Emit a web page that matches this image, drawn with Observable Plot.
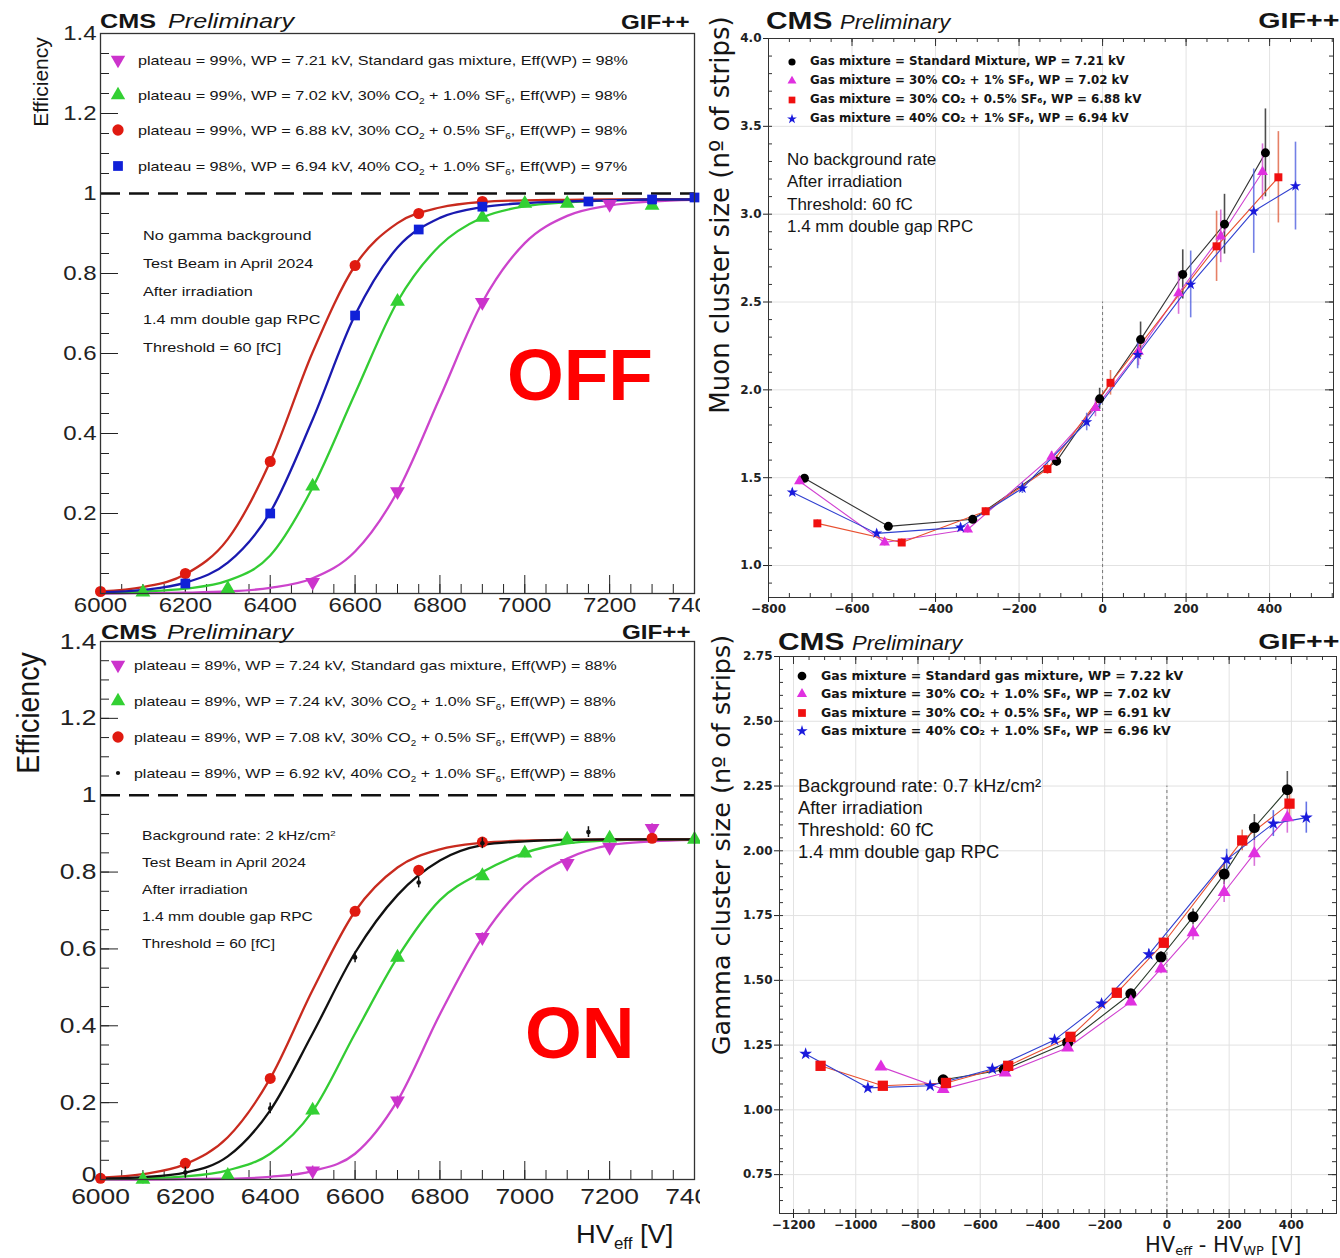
<!DOCTYPE html>
<html><head><meta charset="utf-8">
<script src="https://cdn.jsdelivr.net/npm/d3@7"></script>
<script src="https://cdn.jsdelivr.net/npm/@observablehq/plot@0.6"></script>
<style>
html,body{margin:0;padding:0;background:#fff;}
#root{position:relative;width:1340px;height:1258px;overflow:hidden;background:#fff;}
</style></head><body><div id="root"></div>
<script>
// ---------------- DATA ----------------
const hvGrid = [6000,6100,6200,6300,6400,6500,6600,6700,6800,6900,7000,7100,7200,7300,7400];

// Efficiency, gamma source OFF
const offLegend = [
  "plateau = 99%, WP = 7.21 kV, Standard gas mixture, Eff(WP) = 98%",
  "plateau = 99%, WP = 7.02 kV, 30% CO<sub>2</sub> + 1.0% SF<sub>6</sub>, Eff(WP) = 98%",
  "plateau = 99%, WP = 6.88 kV, 30% CO<sub>2</sub> + 0.5% SF<sub>6</sub>, Eff(WP) = 98%",
  "plateau = 98%, WP = 6.94 kV, 40% CO<sub>2</sub> + 1.0% SF<sub>6</sub>, Eff(WP) = 97%"];
const offStdHV = [6500,6700,6900,7200];
const offStdEff = [0.028,0.255,0.728,0.973];
const offStdFit = [0,0.001,0.002,0.005,0.014,0.038,0.105,0.255,0.49,0.728,0.876,0.944,0.97,0.98,0.984];
const off301HV = [6100,6300,6500,6700,6900,7000,7100,7300];
const off301Eff = [0.003,0.012,0.268,0.73,0.94,0.975,0.975,0.97];
const off301Fit = [0.002,0.005,0.012,0.032,0.095,0.265,0.5,0.73,0.87,0.94,0.968,0.978,0.983,0.985,0.985];
const off305HV = [6000,6200,6400,6600,6750,6900];
const off305Eff = [0.005,0.05,0.33,0.82,0.95,0.98];
const off305Fit = [0.005,0.016,0.048,0.136,0.33,0.603,0.82,0.926,0.965,0.979,0.983,0.984,0.985,0.985,0.985];
const off401HV = [6200,6400,6600,6750,6900,7150,7300,7400];
const off401Eff = [0.025,0.2,0.695,0.91,0.967,0.98,0.985,0.99];
const off401Fit = [0.003,0.009,0.027,0.077,0.203,0.435,0.696,0.865,0.939,0.966,0.976,0.98,0.983,0.985,0.985];
const offNotes = ["No gamma background","Test Beam in April 2024","After irradiation","1.4 mm double gap RPC","Threshold = 60 [fC]"];

// Efficiency, gamma source ON
const onLegend = [
  "plateau = 89%, WP = 7.24 kV, Standard gas mixture, Eff(WP) = 88%",
  "plateau = 89%, WP = 7.24 kV, 30% CO<sub>2</sub> + 1.0% SF<sub>6</sub>, Eff(WP) = 88%",
  "plateau = 89%, WP = 7.08 kV, 30% CO<sub>2</sub> + 0.5% SF<sub>6</sub>, Eff(WP) = 88%",
  "plateau = 89%, WP = 6.92 kV, 40% CO<sub>2</sub> + 1.0% SF<sub>6</sub>, Eff(WP) = 88%"];
const onStdHV = [6500,6700,6900,7100,7200,7300];
const onStdEff = [0.023,0.205,0.63,0.823,0.865,0.914];
const onStdFit = [0,0,0.001,0.002,0.007,0.022,0.067,0.205,0.43,0.63,0.765,0.835,0.87,0.88,0.884];
const on301HV = [6100,6300,6500,6700,6900,7000,7100,7200,7400];
const on301Eff = [0.0,0.01,0.18,0.578,0.79,0.849,0.885,0.888,0.885];
const on301Fit = [0.001,0.003,0.008,0.024,0.067,0.178,0.38,0.578,0.727,0.8,0.85,0.875,0.882,0.885,0.885];
const on305HV = [6000,6200,6400,6600,6750,6900,7300];
const on305Eff = [0.003,0.042,0.263,0.698,0.805,0.878,0.888];
const on305Fit = [0.005,0.014,0.04,0.11,0.263,0.493,0.698,0.812,0.859,0.876,0.882,0.884,0.885,0.885,0.885];
const on401HV = [6200,6400,6600,6750,6900,7150];
const on401Eff = [0.018,0.185,0.578,0.773,0.875,0.904];
const on401Fit = [0.002,0.006,0.018,0.06,0.18,0.38,0.59,0.74,0.83,0.87,0.88,0.884,0.885,0.885,0.885];
const onNotes = ["Background rate: 2 kHz/cm<sup>2</sup>","Test Beam in April 2024","After irradiation","1.4 mm double gap RPC","Threshold = 60 [fC]"];

// Muon cluster size (no background)
const muLegend = [
  "Gas mixture = Standard Mixture, WP = 7.21 kV",
  "Gas mixture = 30% CO₂ + 1% SF₆, WP = 7.02 kV",
  "Gas mixture = 30% CO₂ + 0.5% SF₆, WP = 6.88 kV",
  "Gas mixture = 40% CO₂ + 1% SF₆, WP = 6.94 kV"];
const muStdDV = [-714,-513,-311,-110,-7,91,192,292,390];
const muStdCS = [1.497,1.223,1.263,1.594,1.949,2.286,2.657,2.943,3.349];
const muStdErr = [0.02,0.02,0.02,0.03,0.06,0.1,0.14,0.17,0.25];
const mu301DV = [-726,-522,-323,-122,-17,86,182,283,383];
const mu301CS = [1.48,1.131,1.205,1.62,1.897,2.217,2.55,2.874,3.24];
const mu301Err = [0.02,0.02,0.02,0.03,0.05,0.08,0.12,0.15,0.16];
const mu305DV = [-683,-481,-280,-132,19,273,421];
const mu305CS = [1.24,1.131,1.309,1.549,2.04,2.817,3.21];
const mu305Err = [0.02,0.02,0.02,0.03,0.07,0.2,0.26];
const mu401DV = [-743,-541,-340,-192,-38,84,211,362,462];
const mu401CS = [1.417,1.183,1.217,1.44,1.817,2.2,2.6,3.017,3.16];
const mu401Err = [0.02,0.02,0.02,0.03,0.05,0.08,0.19,0.24,0.25];
const muNotes = ["No background rate","After irradiation","Threshold: 60 fC","1.4 mm double gap RPC"];

// Gamma cluster size (0.7 kHz/cm2)
const gaLegend = [
  "Gas mixture = Standard gas mixture, WP = 7.22 kV",
  "Gas mixture = 30% CO₂ + 1.0% SF₆, WP = 7.02 kV",
  "Gas mixture = 30% CO₂ + 0.5% SF₆, WP = 6.91 kV",
  "Gas mixture = 40% CO₂ + 1.0% SF₆, WP = 6.96 kV"];
const gaStdDV = [-719,-523,-319,-116,-19,84,184,281,387];
const gaStdCS = [1.116,1.155,1.26,1.448,1.59,1.745,1.91,2.09,2.236];
const gaStdErr = [0.01,0.01,0.012,0.015,0.02,0.03,0.04,0.05,0.07];
const ga301DV = [-919,-719,-520,-319,-116,-19,84,184,281,387];
const ga301CS = [1.166,1.08,1.143,1.24,1.417,1.545,1.685,1.84,1.99,2.128];
const ga301Err = [0.01,0.01,0.01,0.012,0.015,0.02,0.03,0.04,0.05,0.06];
const ga305DV = [-1113,-913,-710,-510,-310,-161,-10,242,394];
const ga305CS = [1.17,1.093,1.104,1.17,1.282,1.452,1.645,2.04,2.182];
const ga305Err = [0.01,0.01,0.01,0.01,0.012,0.015,0.02,0.04,0.05];
const ga401DV = [-1161,-961,-761,-561,-361,-210,-58,192,342,448];
const ga401CS = [1.216,1.085,1.093,1.158,1.27,1.41,1.6,1.966,2.105,2.128];
const ga401Err = [0.01,0.01,0.01,0.01,0.012,0.015,0.02,0.04,0.05,0.06];
const gaNotes = ["Background rate: 0.7 kHz/cm²","After irradiation","Threshold: 60 fC","1.4 mm double gap RPC"];

// ---------------- HELPERS ----------------
const ROOTF = "'Liberation Sans', Arial, Helvetica, sans-serif";
const MPLF = "'DejaVu Sans', sans-serif";
const root = document.getElementById("root");
const triDown = {draw(c, size){ const y = -Math.sqrt(size/(3*Math.sqrt(3))); c.moveTo(0,-y*2); c.lineTo(-Math.sqrt(3)*y, y); c.lineTo(Math.sqrt(3)*y, y); c.closePath(); }};

function place(el, left, top){ el.style.position="absolute"; el.style.left=left+"px"; el.style.top=top+"px"; root.appendChild(el); return el; }
function box(left, top, w, h){ const d=document.createElement("div"); d.style.cssText=`position:absolute;left:${left}px;top:${top}px;width:${w}px;height:${h}px;background:#fff;`; root.appendChild(d); }
function T(html, x, base, o = {}) {
  const size = o.size || 14;
  const d = document.createElement("div");
  d.style.cssText = `position:absolute;white-space:nowrap;line-height:1;font-family:${o.family||ROOTF};font-size:${size}px;font-weight:${o.weight||"normal"};font-style:${o.style||"normal"};color:${o.color||"#151515"};top:${base-0.846*size}px;`;
  if (o.anchor === "end") { d.style.right = (1340 - x) + "px"; d.style.transformOrigin = "right center"; }
  else { d.style.left = x + "px"; d.style.transformOrigin = "left center"; }
  if (o.sx && o.sx !== 1) d.style.transform = `scaleX(${o.sx})`;
  d.innerHTML = html;
  root.appendChild(d);
  return d;
}
function R(html, cx, cy, o = {}) {
  const w = document.createElement("div");
  w.style.cssText = `position:absolute;left:${cx}px;top:${cy}px;width:0;height:0;`;
  const s = document.createElement("div");
  s.style.cssText = `position:absolute;left:0;top:0;white-space:nowrap;line-height:1;font-family:${o.family||ROOTF};font-size:${o.size}px;color:#151515;transform-origin:0 0;transform:scaleX(${o.sx||1}) rotate(-90deg) translate(-50%,-50%);`;
  s.innerHTML = html;
  w.appendChild(s); root.appendChild(w);
}
function Mk(sym, cx, cy, size, fill) {
  const svg = d3.create("svg").attr("width",24).attr("height",24)
    .style("position","absolute").style("left",(cx-12)+"px").style("top",(cy-12)+"px").style("overflow","visible");
  svg.append("path").attr("transform","translate(12,12)").attr("d", d3.symbol(sym, size)()).attr("fill", fill);
  root.appendChild(svg.node());
}
function stretch(svg, sx) {
  svg.querySelectorAll("text").forEach(t => {
    const b = t.getBBox();
    const a = getComputedStyle(t).textAnchor;
    const cx = a === "end" ? b.x + b.width : a === "middle" ? b.x + b.width/2 : b.x;
    const tr = t.getAttribute("transform") || "";
    t.setAttribute("transform", `${tr} translate(${cx},0) scale(${sx},1) translate(${-cx},0)`);
  });
}
const SUB = s => s.replace(/<sub>/g,'<span style="font-size:0.62em;position:relative;top:0.5em">').replace(/<\/sub>/g,'</span>')
                  .replace(/<sup>/g,'<span style="font-size:0.62em;position:relative;top:-0.5em">').replace(/<\/sup>/g,'</span>');

// ---------------- EFFICIENCY PANELS ----------------
function effPanel({height, mt, mb, series, fontSize, showZero, xPad}) {
  const W = 700, ml = 100, mr = 6;
  const fw = W - ml - mr, fh = height - mt - mb;
  const yMaj = [0,0.2,0.4,0.6,0.8,1,1.2,1.4];
  const yMin = d3.range(0, 1.4001, 0.05);
  const xMaj = d3.range(6000, 7401, 200);
  const xMin = d3.range(6000, 7401, 50);
  const fmt = d=>String(+d.toFixed(1));
  const marks = [
    Plot.tickY(yMin, {y: d=>d, insetRight: fw-9, stroke:"#222"}),
    Plot.tickY(yMaj, {y: d=>d, insetRight: fw-18, stroke:"#222"}),
    Plot.tickX(xMin, {x: d=>d, insetTop: fh-9, stroke:"#222"}),
    Plot.tickX(xMaj, {x: d=>d, insetTop: fh-18, stroke:"#222"}),
    Plot.ruleY([1], {strokeDasharray:"20,9", strokeWidth:2.4, stroke:"#111"})
  ];
  for (const s of series)
    marks.push(Plot.line(hvGrid.map((x,i)=>({x, y:s.fit[i]})), {x:"x", y:"y", stroke:s.line, strokeWidth:2.3, curve:"monotone-x"}));
  for (const s of series) {
    const rows = s.hv.map((x,i)=>({x, y:s.eff[i]}));
    if (s.err) marks.push(Plot.ruleX(rows, {x:"x", y1:d=>d.y-s.err, y2:d=>d.y+s.err, stroke:s.fill, strokeWidth:1.5}));
    marks.push(Plot.dot(rows, {x:"x", y:"y", symbol:s.symbol, r:s.r, fill:s.fill, stroke:"none"}));
  }
  marks.push(Plot.frame({stroke:"#333", strokeWidth:1.3}));
  marks.push(Plot.axisY({ticks: yMaj.slice(1), tickSize:0, tickPadding:4, tickFormat:fmt, label:null}));
  if (showZero) marks.push(Plot.axisY({ticks: [0], tickSize:0, tickPadding:4, dy:-5, tickFormat:fmt, label:null}));
  marks.push(Plot.axisX({ticks: xMaj, tickSize:0, tickPadding:xPad, tickFormat:d=>String(d), label:null}));
  return Plot.plot({width:W, height, marginLeft:ml, marginRight:mr, marginTop:mt, marginBottom:mb,
    x:{domain:[6000,7400]}, y:{domain:[0,1.4]},
    style:{background:"transparent", overflow:"visible", maxWidth:"none", fontFamily:ROOTF, fontSize:fontSize+"px", color:"#222"},
    marks});
}

const MAG="#cc33cc", GRN="#33d033", RED="#e01a10", BLU="#1020d8";
const effA = effPanel({height:625, mt:33, mb:32, fontSize:20, showZero:false, xPad:4, series:[
  {hv:offStdHV, eff:offStdEff, fit:offStdFit, line:"#cc44cc", fill:MAG, symbol:triDown, r:5.5},
  {hv:off301HV, eff:off301Eff, fit:off301Fit, line:"#33cc33", fill:GRN, symbol:"triangle", r:5.5},
  {hv:off305HV, eff:off305Eff, fit:off305Fit, line:"#c82a1e", fill:RED, symbol:"circle", r:5.5},
  {hv:off401HV, eff:off401Eff, fit:off401Fit, line:"#1a1ab0", fill:BLU, symbol:"square", r:5.5}]});
place(effA, 0, 0);
stretch(effA, 1.2);
box(0, 613, 700, 645);
const effB = effPanel({height:643, mt:26, mb:79, fontSize:22, showZero:true, xPad:9, series:[
  {hv:onStdHV, eff:onStdEff, fit:onStdFit, line:"#cc44cc", fill:MAG, symbol:triDown, r:5.5, err:0.012},
  {hv:on301HV, eff:on301Eff, fit:on301Fit, line:"#33cc33", fill:GRN, symbol:"triangle", r:5.5, err:0.012},
  {hv:on305HV, eff:on305Eff, fit:on305Fit, line:"#c82a1e", fill:RED, symbol:"circle", r:5.5},
  {hv:on401HV, eff:on401Eff, fit:on401Fit, line:"#111", fill:"#111", symbol:"circle", r:2.3, err:0.014}]});
place(effB, 0, 615);
stretch(effB, 1.2);

// ---------------- CLUSTER SIZE PANELS ----------------
function csPanel({height, ml, mt, mb, mr, xdom, ydom, xMaj, xMin, yMaj, yMin, yfmt, zeroTop, series}) {
  const W = 640;
  const fw = W - ml - mr, fh = height - mt - mb;
  const marks = [
    Plot.ruleX(xMaj, {x:d=>d, stroke:"#e2e2e2"}),
    Plot.ruleY(yMaj, {y:d=>d, stroke:"#e2e2e2"}),
    Plot.ruleX([0], {x:d=>d, y1:ydom[0], y2:zeroTop, stroke:"#777", strokeDasharray:"3,3"}),
    Plot.tickY(yMin, {y:d=>d, insetRight: fw-4, stroke:"#333"}),
    Plot.tickY(yMin, {y:d=>d, insetLeft: fw-4, stroke:"#333"}),
    Plot.tickY(yMaj, {y:d=>d, insetLeft: fw-8, stroke:"#333"}),
    Plot.tickX(xMin, {x:d=>d, insetTop: fh-4, stroke:"#333"}),
    Plot.tickX(xMin, {x:d=>d, insetBottom: fh-4, stroke:"#333"}),
    Plot.tickX(xMaj, {x:d=>d, insetBottom: fh-8, stroke:"#333"})
  ];
  for (const s of series) {
    const rows = s.dv.map((x,i)=>({x, y:s.cs[i], e:s.err[i]}));
    marks.push(Plot.ruleX(rows, {x:"x", y1:d=>d.y-d.e, y2:d=>d.y+d.e, stroke:s.bar, strokeWidth:1.6, strokeOpacity:0.8}));
    marks.push(Plot.line(rows, {x:"x", y:"y", stroke:s.line, strokeWidth:1.1}));
  }
  for (const s of series) {
    const rows = s.dv.map((x,i)=>({x, y:s.cs[i]}));
    marks.push(Plot.dot(rows, {x:"x", y:"y", symbol:s.symbol, r:s.r, fill:s.fill, stroke:"none"}));
  }
  marks.push(Plot.frame({stroke:"#333", strokeWidth:1}));
  marks.push(Plot.axisY({ticks:yMaj, tickSize:5, tickPadding:2, tickFormat:yfmt, label:null}));
  marks.push(Plot.axisX({ticks:xMaj, tickSize:5, tickPadding:2, tickFormat:d=> d<0 ? "−"+(-d) : String(d), label:null}));
  return Plot.plot({width:W, height, marginLeft:ml, marginRight:mr, marginTop:mt, marginBottom:mb,
    x:{domain:xdom}, y:{domain:ydom},
    style:{background:"transparent", overflow:"visible", maxWidth:"none", fontFamily:MPLF, fontWeight:"bold", fontSize:"12px", color:"#222"},
    marks});
}
box(700, 0, 640, 1258);
const CM="#e030e0", CR="#f01010", CB="#1a1adc";
const muP = csPanel({height:640, ml:63, mt:38, mb:43, mr:12, xdom:[-800,553], ydom:[0.818,4.0],
  xMaj:[-800,-600,-400,-200,0,200,400], xMin:d3.range(-800,551,50),
  yMaj:[1.0,1.5,2.0,2.5,3.0,3.5,4.0], yMin:d3.range(0.9,4.001,0.1), yfmt:d=>d.toFixed(1), zeroTop:2.5,
  series:[
    {dv:muStdDV, cs:muStdCS, err:muStdErr, line:"#333", bar:"#222", fill:"#000", symbol:"circle", r:4.5},
    {dv:mu301DV, cs:mu301CS, err:mu301Err, line:"#d040d0", bar:"#d050d0", fill:CM, symbol:"triangle", r:4},
    {dv:mu305DV, cs:mu305CS, err:mu305Err, line:"#e85030", bar:"#e06040", fill:CR, symbol:"square", r:4.5},
    {dv:mu401DV, cs:mu401CS, err:mu401Err, line:"#3040d0", bar:"#5060e0", fill:CB, symbol:"star", r:3.5}]});
place(muP, 705, 0);
const gaP = csPanel({height:643, ml:74, mt:41, mb:45, mr:9, xdom:[-1245,545], ydom:[0.6,2.75],
  xMaj:[-1200,-1000,-800,-600,-400,-200,0,200,400], xMin:d3.range(-1200,541,50),
  yMaj:[0.75,1.0,1.25,1.5,1.75,2.0,2.25,2.5,2.75], yMin:d3.range(0.6,2.751,0.05), yfmt:d=>d.toFixed(2), zeroTop:2.25,
  series:[
    {dv:gaStdDV, cs:gaStdCS, err:gaStdErr, line:"#2a3a2a", bar:"#333", fill:"#000", symbol:"circle", r:5.5},
    {dv:ga301DV, cs:ga301CS, err:ga301Err, line:"#d040d0", bar:"#d050d0", fill:CM, symbol:"triangle", r:4.8},
    {dv:ga305DV, cs:ga305CS, err:ga305Err, line:"#e85030", bar:"#e06040", fill:CR, symbol:"square", r:5.8},
    {dv:ga401DV, cs:ga401CS, err:ga401Err, line:"#3040d0", bar:"#4050e0", fill:CB, symbol:"star", r:4}]});
place(gaP, 705, 615);

// ---------------- TEXT: PANEL A ----------------
T("CMS", 100, 28, {size:21, weight:"bold", sx:1.2});
T("Preliminary", 168, 28, {size:21, style:"italic", sx:1.2});
T("GIF++", 690, 29, {size:21, weight:"bold", sx:1.15, anchor:"end"});
R("Efficiency", 40, 82, {size:21, sx:1.0});
const legA = [[triDown, MAG, 90],[d3.symbolTriangle, GRN, 90],[d3.symbolCircle, RED, 100],[d3.symbolSquare, BLU, 95]];
[60,95,130,166].forEach((y,i)=>{ Mk(legA[i][0], 118, y, legA[i][2], legA[i][1]); T(SUB(offLegend[i]), 138, y+5, {size:13.5, sx:1.2}); });
offNotes.forEach((s,i)=>T(SUB(s), 143, 240+28*i, {size:13.5, sx:1.2}));
T("OFF", 507, 400, {size:73, weight:"bold", color:"#ff0000"});

// ---------------- TEXT: PANEL B ----------------
T("CMS", 101, 639, {size:21, weight:"bold", sx:1.2});
T("Preliminary", 167, 639, {size:21, style:"italic", sx:1.2});
T("GIF++", 691, 639, {size:21, weight:"bold", sx:1.15, anchor:"end"});
R("Efficiency", 28, 713, {size:28.5, sx:1.1});
const legB = [[triDown, MAG, 90],[d3.symbolTriangle, GRN, 90],[d3.symbolCircle, RED, 100],[d3.symbolCircle, "#111", 14]];
[665,701,737,773].forEach((y,i)=>{ Mk(legB[i][0], 118, y, legB[i][2], legB[i][1]); T(SUB(onLegend[i]), 134, y+5, {size:13.3, sx:1.2}); });
onNotes.forEach((s,i)=>T(SUB(s), 142, 840+27*i, {size:13, sx:1.2}));
T("ON", 525, 1058, {size:73, weight:"bold", color:"#ff0000"});
T('HV<span style="font-size:0.62em;position:relative;top:0.35em">eff</span> [V]', 576, 1243, {size:26, sx:1.05});

// ---------------- TEXT: PANEL C ----------------
T("CMS", 766, 29, {size:23, weight:"bold", sx:1.3});
T("Preliminary", 840, 29, {size:21, style:"italic", sx:1.05});
T("GIF++", 1339, 29, {size:22, weight:"bold", sx:1.3, anchor:"end"});
R("Muon cluster size (nº of strips)", 720, 215, {size:26, family:MPLF});
const legC = [[d3.symbolCircle,"#000",40],[d3.symbolTriangle,CM,35],[d3.symbolSquare,CR,45],[d3.symbolStar,CB,30]];
[62,81,100,119].forEach((y,i)=>{ Mk(legC[i][0], 792, y, legC[i][2], legC[i][1]); T(muLegend[i], 810, y+4, {size:11.5, weight:"bold", family:MPLF, sx:1.03}); });
muNotes.forEach((s,i)=>T(s, 787, 165+22.5*i, {size:17}));

// ---------------- TEXT: PANEL D ----------------
T("CMS", 778, 650, {size:23, weight:"bold", sx:1.3});
T("Preliminary", 852, 650, {size:21, style:"italic", sx:1.05});
T("GIF++", 1339, 650, {size:22, weight:"bold", sx:1.3, anchor:"end"});
R("Gamma cluster size (nº of strips)", 722, 845, {size:25.5, family:MPLF});
const legD = [[d3.symbolCircle,"#000",60],[d3.symbolTriangle,CM,45],[d3.symbolSquare,CR,60],[d3.symbolStar,CB,40]];
[676,694,713,731].forEach((y,i)=>{ Mk(legD[i][0], 802, y, legD[i][2], legD[i][1]); T(gaLegend[i], 821, y+4.5, {size:12.5, weight:"bold", family:MPLF, sx:1.0}); });
gaNotes.forEach((s,i)=>T(s, 798, 793+22*i, {size:17.5, sx:1.05}));
T('HV<span style="font-size:0.62em;position:relative;top:0.2em">eff</span> - HV<span style="font-size:0.62em;position:relative;top:0.2em">WP</span> [V]', 1145, 1253, {size:21, family:MPLF});
</script></body></html>
